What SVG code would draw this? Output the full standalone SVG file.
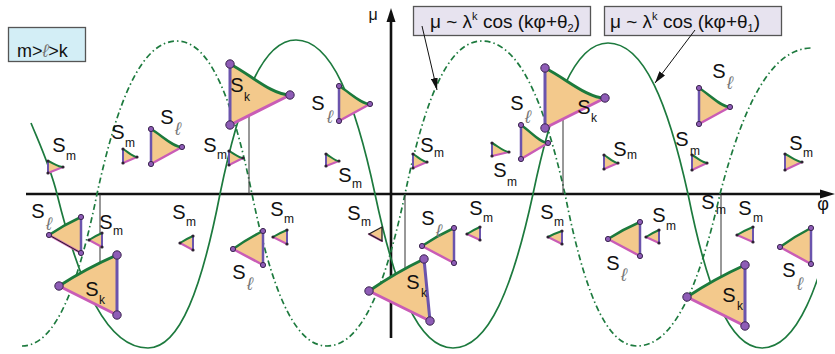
<svg xmlns="http://www.w3.org/2000/svg" width="835" height="354" viewBox="0 0 835 354">
<defs>
<style>
.f{fill:#f3c98c;stroke:none}
.g{fill:none;stroke:#1c7a3c;stroke-linecap:round}
.p{fill:none;stroke:#6b54ad;stroke-linecap:round}
.k{fill:none;stroke:#c95cb6;stroke-linecap:round}
.B{stroke-width:3}
.M{stroke-width:2.5}
.S{stroke-width:2}
.dL{fill:#8e5cb6;stroke:#3b2550;stroke-width:1}
.dS{fill:#2e2233}
text{font-family:"Liberation Sans","DejaVu Sans",Arial,sans-serif;fill:#111}
.s{font-size:20px;text-anchor:middle}
.sb{font-size:12px;text-anchor:middle}
.el{font-size:18px;font-style:italic;fill:#777;text-anchor:middle}
.curve{fill:none;stroke:#1d7a3e;stroke-width:1.7}
.dd{stroke-dasharray:6 3 1.5 3}
.guide{stroke:#333;stroke-width:1;fill:none}
.box{stroke:#555;stroke-width:1.3}
</style>
<clipPath id="clipR"><rect x="0" y="0" width="817" height="354"/></clipPath>
<marker id="ah" markerUnits="userSpaceOnUse" markerWidth="12" markerHeight="7" refX="12" refY="3.5" orient="auto">
<path d="M0,0 L12,3.5 L0,7 Z" fill="#111"/>
</marker>
</defs>
<rect width="835" height="354" fill="#fff"/>

<g id="axes">
<line x1="26" y1="194" x2="822" y2="194" stroke="#111" stroke-width="2.6"/>
<polygon points="835,194 820,189.5 820,198.5" fill="#111"/>
<line x1="391" y1="338" x2="391" y2="20" stroke="#111" stroke-width="2.6"/>
<polygon points="391,8 386.5,22 395.5,22" fill="#111"/>
<text x="373" y="20" font-size="16" text-anchor="middle">μ</text>
<text x="823" y="210" font-size="18" text-anchor="middle">φ</text>
</g>

<g id="curves">
<path class="curve" clip-path="url(#clipR)" d="M31,123 C40,145 50,166 57,194 C79.8,286.4 107.1,348 148,348 C180.4,348 202,286.4 220,194 C239,101.6 261.8,40 296,40 C331.6,40 355.3,101.6 375,194 C394.5,286.4 417.9,348 453,348 C489,348 513,286.4 533,194 C551.8,103.4 574.3,43 608,43 C644,43 668,103.4 688,194 C706.5,286.4 728.7,348 762,348 C797.1,348 820.5,286.4 840,194"/>
<path class="curve dd" d="M22,346 C55.75,346 78.25,285.2 97,194 C117,102.2 141,41 177,41 C210.75,41 233.25,102.2 252,194 C270.75,285.2 293.25,346 327,346 C362.1,346 385.5,285.2 405,194 C424.25,102.2 447.35,41 482,41 C519.35,41 544.25,102.2 565,194 C583,285.2 604.6,346 637,346 C674.35,346 699.25,285.2 720,194 C743,106.4 770.6,48 812,48"/>
</g>

<g id="guides">
<line class="guide" x1="249" y1="97" x2="249" y2="194"/>
<line class="guide" x1="563" y1="87" x2="563" y2="194"/>
<line class="guide" x1="100" y1="194" x2="100" y2="282" stroke="#777"/>
<line class="guide" x1="405" y1="194" x2="405" y2="285"/>
<line class="guide" x1="721" y1="194" x2="721" y2="298"/>
</g>

<g id="legend-key">
<rect class="box" x="8.5" y="27.5" width="77" height="34" fill="#d3eef6"/>
<text x="17" y="57" font-size="18">m&gt;<tspan fill="#777" font-style="italic">ℓ</tspan>&gt;k</text>
</g>
<g id="legend-theta2">
<rect class="box" x="413.5" y="6.5" width="177" height="29" fill="#e7e3ef"/>
<text x="430" y="28" font-size="19">μ ~ λ<tspan font-size="11" dy="-8">k</tspan><tspan dy="8"> cos (kφ+θ</tspan><tspan font-size="11" dy="4">2</tspan><tspan dy="-4">)</tspan></text>
</g>
<g id="legend-theta1">
<rect class="box" x="604.5" y="6.5" width="177" height="29" fill="#e7e3ef"/>
<text x="610" y="28" font-size="19">μ ~ λ<tspan font-size="11" dy="-8">k</tspan><tspan dy="8"> cos (kφ+θ</tspan><tspan font-size="11" dy="4">1</tspan><tspan dy="-4">)</tspan></text>
</g>
<g id="connectors">
<line x1="422" y1="26" x2="437" y2="90" stroke="#111" stroke-width="1" marker-end="url(#ah)"/>
<line x1="695" y1="30" x2="655" y2="83" stroke="#111" stroke-width="1" marker-end="url(#ah)"/>
</g>

<!-- upper triangles -->
<g id="t1">
<path class="f" d="M230,64 C251,74.9 272,95 290,95 L230,125 Z"/>
<path class="k B" d="M230,125 L290,95"/><path class="p B" d="M230,64 L230,125"/><path class="g B" d="M230,64 C251,74.9 272,95 290,95"/>
<circle class="dL" cx="230" cy="64" r="4.2"/><circle class="dL" cx="230" cy="125" r="4.2"/><circle class="dL" cx="290" cy="95" r="4.2"/>
<text class="s" x="237" y="92">S</text><text class="sb" x="247" y="101">k</text>
</g>
<g id="t2">
<path class="f" d="M151,129 C161.9,135.3 172.7,147 182,147 L151,164 Z"/>
<path class="k M" d="M151,164 L182,147"/><path class="p M" d="M151,129 L151,164"/><path class="g M" d="M151,129 C161.9,135.3 172.7,147 182,147"/>
<circle class="dL" cx="151" cy="129" r="2.6"/><circle class="dL" cx="151" cy="164" r="2.6"/><circle class="dL" cx="182" cy="147" r="2.6"/>
<text class="s" x="167" y="124">S</text><text class="el" x="178" y="135">ℓ</text>
</g>
<g id="t3">
<path class="f" d="M123,149 C127.9,151.8 132.8,157 137,157 L123,163 Z"/>
<path class="k S" d="M123,163 L137,157"/><path class="p S" d="M123,149 L123,163"/><path class="g S" d="M123,149 C127.9,151.8 132.8,157 137,157"/>
<circle class="dS" cx="123" cy="149" r="1.6"/><circle class="dS" cx="123" cy="163" r="1.6"/><circle class="dS" cx="137" cy="157" r="1.6"/>
<text class="s" x="118" y="139">S</text><text class="sb" x="130" y="147">m</text>
</g>
<g id="t4">
<path class="f" d="M48,161 C53.3,163.1 58.5,167 63,167 L48,173 Z"/>
<path class="k S" d="M48,173 L63,167"/><path class="p S" d="M48,161 L48,173"/><path class="g S" d="M48,161 C53.3,163.1 58.5,167 63,167"/>
<circle class="dS" cx="48" cy="161" r="1.6"/><circle class="dS" cx="48" cy="173" r="1.6"/><circle class="dS" cx="63" cy="167" r="1.6"/>
<text class="s" x="59" y="152">S</text><text class="sb" x="71" y="160">m</text>
</g>
<g id="t5">
<path class="f" d="M229,151 C233.9,153.5 238.8,158 243,158 L229,165 Z"/>
<path class="k S" d="M229,165 L243,158"/><path class="p S" d="M229,151 L229,165"/><path class="g S" d="M229,151 C233.9,153.5 238.8,158 243,158"/>
<circle class="dS" cx="229" cy="151" r="1.6"/><circle class="dS" cx="229" cy="165" r="1.6"/><circle class="dS" cx="243" cy="158" r="1.6"/>
<text class="s" x="210" y="152">S</text><text class="sb" x="222" y="159">m</text>
</g>
<g id="t6">
<path class="f" d="M339,86 C349.9,92.3 360.7,104 370,104 L339,121 Z"/>
<path class="k M" d="M339,121 L370,104"/><path class="p M" d="M339,86 L339,121"/><path class="g M" d="M339,86 C349.9,92.3 360.7,104 370,104"/>
<circle class="dL" cx="339" cy="86" r="2.6"/><circle class="dL" cx="339" cy="121" r="2.6"/><circle class="dL" cx="370" cy="104" r="2.6"/>
<text class="s" x="318" y="110">S</text><text class="el" x="330" y="123">ℓ</text>
</g>
<g id="t7">
<path class="f" d="M326,154 C330.6,156.5 335.1,161 339,161 L326,166 Z"/>
<path class="k S" d="M326,166 L339,161"/><path class="p S" d="M326,154 L326,166"/><path class="g S" d="M326,154 C330.6,156.5 335.1,161 339,161"/>
<circle class="dS" cx="326" cy="154" r="1.6"/><circle class="dS" cx="326" cy="166" r="1.6"/><circle class="dS" cx="339" cy="161" r="1.6"/>
<text class="s" x="345" y="182">S</text><text class="sb" x="357" y="188">m</text>
</g>
<g id="t8">
<path class="f" d="M413,154 C417.9,156.8 422.8,162 427,162 L413,168 Z"/>
<path class="k S" d="M413,168 L427,162"/><path class="p S" d="M413,154 L413,168"/><path class="g S" d="M413,154 C417.9,156.8 422.8,162 427,162"/>
<circle class="dS" cx="413" cy="154" r="1.6"/><circle class="dS" cx="413" cy="168" r="1.6"/><circle class="dS" cx="427" cy="162" r="1.6"/>
<text class="s" x="427" y="152">S</text><text class="sb" x="439" y="157">m</text>
</g>
<g id="t9">
<path class="f" d="M492,143 C498,146.2 503.9,152 509,152 L492,156 Z"/>
<path class="k S" d="M492,156 L509,152"/><path class="p S" d="M492,143 L492,156"/><path class="g S" d="M492,143 C498,146.2 503.9,152 509,152"/>
<circle class="dS" cx="492" cy="143" r="1.6"/><circle class="dS" cx="492" cy="156" r="1.6"/><circle class="dS" cx="509" cy="152" r="1.6"/>
<text class="s" x="500" y="177">S</text><text class="sb" x="512" y="186">m</text>
</g>
<g id="t10">
<path class="f" d="M521,125 C530.5,131.3 539.9,143 548,143 L521,159 Z"/>
<path class="k M" d="M521,159 L548,143"/><path class="p M" d="M521,125 L521,159"/><path class="g M" d="M521,125 C530.5,131.3 539.9,143 548,143"/>
<circle class="dL" cx="521" cy="125" r="2.6"/><circle class="dL" cx="521" cy="159" r="2.6"/><circle class="dL" cx="548" cy="143" r="2.6"/>
<text class="s" x="517" y="110">S</text><text class="el" x="528" y="123">ℓ</text>
</g>
<g id="t11">
<path class="f" d="M545,68 C566,78.5 587,98 605,98 L545,128 Z"/>
<path class="k B" d="M545,128 L605,98"/><path class="p B" d="M545,68 L545,128"/><path class="g B" d="M545,68 C566,78.5 587,98 605,98"/>
<circle class="dL" cx="545" cy="68" r="4.2"/><circle class="dL" cx="545" cy="128" r="4.2"/><circle class="dL" cx="605" cy="98" r="4.2"/>
<text class="s" x="584" y="114">S</text><text class="sb" x="594" y="122">k</text>
</g>
<g id="t12">
<path class="f" d="M604,155 C608.9,157.8 613.8,163 618,163 L604,169 Z"/>
<path class="k S" d="M604,169 L618,163"/><path class="p S" d="M604,155 L604,169"/><path class="g S" d="M604,155 C608.9,157.8 613.8,163 618,163"/>
<circle class="dS" cx="604" cy="155" r="1.6"/><circle class="dS" cx="604" cy="169" r="1.6"/><circle class="dS" cx="618" cy="163" r="1.6"/>
<text class="s" x="620" y="156">S</text><text class="sb" x="632" y="159">m</text>
</g>
<g id="t13">
<path class="f" d="M699,88 C709.9,94.7 720.7,107 730,107 L699,124 Z"/>
<path class="k M" d="M699,124 L730,107"/><path class="p M" d="M699,88 L699,124"/><path class="g M" d="M699,88 C709.9,94.7 720.7,107 730,107"/>
<circle class="dL" cx="699" cy="88" r="2.6"/><circle class="dL" cx="699" cy="124" r="2.6"/><circle class="dL" cx="730" cy="107" r="2.6"/>
<text class="s" x="719" y="78">S</text><text class="el" x="730" y="89">ℓ</text>
</g>
<g id="t14">
<path class="f" d="M692,155 C697.3,157.8 702.5,163 707,163 L692,170 Z"/>
<path class="k S" d="M692,170 L707,163"/><path class="p S" d="M692,155 L692,170"/><path class="g S" d="M692,155 C697.3,157.8 702.5,163 707,163"/>
<circle class="dS" cx="692" cy="155" r="1.6"/><circle class="dS" cx="692" cy="170" r="1.6"/><circle class="dS" cx="707" cy="163" r="1.6"/>
<text class="s" x="682" y="146">S</text><text class="sb" x="695" y="155">m</text>
</g>
<g id="t15">
<path class="f" d="M785,154 C791,156.8 796.9,162 802,162 L785,170 Z"/>
<path class="k S" d="M785,170 L802,162"/><path class="p S" d="M785,154 L785,170"/><path class="g S" d="M785,154 C791,156.8 796.9,162 802,162"/>
<circle class="dS" cx="785" cy="154" r="1.6"/><circle class="dS" cx="785" cy="170" r="1.6"/><circle class="dS" cx="802" cy="162" r="1.6"/>
<text class="s" x="796" y="150">S</text><text class="sb" x="808" y="157">m</text>
</g>

<!-- lower triangles -->
<g id="t16">
<path class="f" d="M49,235 Q64.3,224.7 81,217 L81,253 Z"/>
<path class="k M" d="M49,235 L81,253"/><path d="M49,235 L81,253" stroke="#222" stroke-width="1" fill="none"/><path class="p M" d="M81,217 L81,253"/><path class="g M" d="M49,235 Q64.3,224.7 81,217"/>
<circle class="dL" cx="49" cy="235" r="2.6"/><circle class="dL" cx="81" cy="217" r="2.6"/><circle class="dL" cx="81" cy="253" r="2.6"/>
<text class="s" x="38" y="218">S</text><text class="el" x="49" y="230">ℓ</text>
</g>
<g id="t17">
<path class="f" d="M89,240 Q95.2,236 102,233 L102,247 Z"/>
<path class="k S" d="M89,240 L102,247"/><path class="p S" d="M102,233 L102,247"/><path class="g S" d="M89,240 Q95.2,236 102,233"/>
<circle class="dS" cx="89" cy="240" r="1.6"/><circle class="dS" cx="102" cy="233" r="1.6"/><circle class="dS" cx="102" cy="247" r="1.6"/>
<text class="s" x="106" y="229">S</text><text class="sb" x="118" y="235">m</text>
</g>
<g id="t18">
<path class="f" d="M59,286 Q86.8,268.2 117,255 L117,315 Z"/>
<path class="k B" d="M59,286 L117,315"/><path class="p B" d="M117,255 L117,315"/><path class="g B" d="M59,286 Q86.8,268.2 117,255"/>
<circle class="dL" cx="59" cy="286" r="4.2"/><circle class="dL" cx="117" cy="255" r="4.2"/><circle class="dL" cx="117" cy="315" r="4.2"/>
<text class="s" x="92" y="296">S</text><text class="sb" x="102" y="304">k</text>
</g>
<g id="t19">
<path class="f" d="M180,243 Q186.2,239 193,236 L193,250 Z"/>
<path class="k S" d="M180,243 L193,250"/><path class="p S" d="M193,236 L193,250"/><path class="g S" d="M180,243 Q186.2,239 193,236"/>
<circle class="dS" cx="180" cy="243" r="1.6"/><circle class="dS" cx="193" cy="236" r="1.6"/><circle class="dS" cx="193" cy="250" r="1.6"/>
<text class="s" x="179" y="219">S</text><text class="sb" x="191" y="226">m</text>
</g>
<g id="t20">
<path class="f" d="M233,249 Q247.3,238.8 263,231 L263,265 Z"/>
<path class="k M" d="M233,249 L263,265"/><path class="p M" d="M263,231 L263,265"/><path class="g M" d="M233,249 Q247.3,238.8 263,231"/>
<circle class="dL" cx="233" cy="249" r="2.6"/><circle class="dL" cx="263" cy="231" r="2.6"/><circle class="dL" cx="263" cy="265" r="2.6"/>
<text class="s" x="239" y="279">S</text><text class="el" x="250" y="290">ℓ</text>
</g>
<g id="t21">
<path class="f" d="M273,237 Q279.7,233 287,230 L287,244 Z"/>
<path class="k S" d="M273,237 L287,244"/><path class="p S" d="M287,230 L287,244"/><path class="g S" d="M273,237 Q279.7,233 287,230"/>
<circle class="dS" cx="273" cy="237" r="1.6"/><circle class="dS" cx="287" cy="230" r="1.6"/><circle class="dS" cx="287" cy="244" r="1.6"/>
<text class="s" x="277" y="216">S</text><text class="sb" x="289" y="223">m</text>
</g>
<g id="t22">
<path class="f" d="M369,234 L382,227 L382,241 Z"/>
<path class="k S" d="M369,234 L382,241"/>
<path d="M369,234 L382,227 L382,241 Z" fill="none" stroke="#222" stroke-width="1.3"/>
<text class="s" x="354" y="220">S</text><text class="sb" x="366" y="226">m</text>
</g>
<g id="t23">
<path class="f" d="M422,246 Q437.3,235.7 454,228 L454,263 Z"/>
<path class="k M" d="M422,246 L454,263"/><path class="p M" d="M454,228 L454,263"/><path class="g M" d="M422,246 Q437.3,235.7 454,228"/>
<circle class="dL" cx="422" cy="246" r="2.6"/><circle class="dL" cx="454" cy="228" r="2.6"/><circle class="dL" cx="454" cy="263" r="2.6"/>
<text class="s" x="428" y="225">S</text><text class="el" x="439" y="237">ℓ</text>
</g>
<g id="t24">
<path class="f" d="M467,234 Q473.2,230 480,227 L480,240 Z"/>
<path class="k S" d="M467,234 L480,240"/><path class="p S" d="M480,227 L480,240"/><path class="g S" d="M467,234 Q473.2,230 480,227"/>
<circle class="dS" cx="467" cy="234" r="1.6"/><circle class="dS" cx="480" cy="227" r="1.6"/><circle class="dS" cx="480" cy="240" r="1.6"/>
<text class="s" x="476" y="215">S</text><text class="sb" x="488" y="222">m</text>
</g>
<g id="t25">
<path class="f" d="M369,291 Q395.2,272.8 424,259 L430,321 Z"/>
<path class="k B" d="M369,291 L430,321"/><path class="p B" d="M424,259 L430,321"/><path class="g B" d="M369,291 Q395.2,272.8 424,259"/>
<circle class="dL" cx="369" cy="291" r="4.2"/><circle class="dL" cx="424" cy="259" r="4.2"/><circle class="dL" cx="430" cy="321" r="4.2"/>
<text class="s" x="413" y="289">S</text><text class="sb" x="424" y="297">k</text>
</g>
<g id="t26">
<path class="f" d="M548,237 Q554.8,233.4 562,231 L562,244 Z"/>
<path class="k S" d="M548,237 L562,244"/><path class="p S" d="M562,231 L562,244"/><path class="g S" d="M548,237 Q554.8,233.4 562,231"/>
<circle class="dS" cx="548" cy="237" r="1.6"/><circle class="dS" cx="562" cy="231" r="1.6"/><circle class="dS" cx="562" cy="244" r="1.6"/>
<text class="s" x="547" y="219">S</text><text class="sb" x="559" y="226">m</text>
</g>
<g id="t27">
<path class="f" d="M608,239 Q623.3,229.2 640,222 L640,256 Z"/>
<path class="k M" d="M608,239 L640,256"/><path class="p M" d="M640,222 L640,256"/><path class="g M" d="M608,239 Q623.3,229.2 640,222"/>
<circle class="dL" cx="608" cy="239" r="2.6"/><circle class="dL" cx="640" cy="222" r="2.6"/><circle class="dL" cx="640" cy="256" r="2.6"/>
<text class="s" x="613" y="270">S</text><text class="el" x="624" y="281">ℓ</text>
</g>
<g id="t28">
<path class="f" d="M646,237 Q652.2,233 659,230 L659,243 Z"/>
<path class="k S" d="M646,237 L659,243"/><path class="p S" d="M659,230 L659,243"/><path class="g S" d="M646,237 Q652.2,233 659,230"/>
<circle class="dS" cx="646" cy="237" r="1.6"/><circle class="dS" cx="659" cy="230" r="1.6"/><circle class="dS" cx="659" cy="243" r="1.6"/>
<text class="s" x="659" y="222">S</text><text class="sb" x="671" y="230">m</text>
</g>
<g id="t29">
<path class="f" d="M687,297 Q714.7,278.7 745,265 L745,326 Z"/>
<path class="k B" d="M687,297 L745,326"/><path class="p B" d="M745,265 L745,326"/><path class="g B" d="M687,297 Q714.7,278.7 745,265"/>
<circle class="dL" cx="687" cy="297" r="4.2"/><circle class="dL" cx="745" cy="265" r="4.2"/><circle class="dL" cx="745" cy="326" r="4.2"/>
<text class="s" x="729" y="302">S</text><text class="sb" x="740" y="310">k</text>
</g>
<g id="t30">
<path class="f" d="M737,235 Q744.7,230.4 753,227 L753,242 Z"/>
<path class="k S" d="M737,235 L753,242"/><path class="p S" d="M753,227 L753,242"/><path class="g S" d="M737,235 Q744.7,230.4 753,227"/>
<circle class="dS" cx="737" cy="235" r="1.6"/><circle class="dS" cx="753" cy="227" r="1.6"/><circle class="dS" cx="753" cy="242" r="1.6"/>
<text class="s" x="745" y="215">S</text><text class="sb" x="758" y="222">m</text>
</g>
<g id="t31">
<path class="f" d="M780,247 Q794.7,236.3 811,228 L811,264 Z"/>
<path class="k M" d="M780,247 L811,264"/><path class="p M" d="M811,228 L811,264"/><path class="g M" d="M780,247 Q794.7,236.3 811,228"/>
<circle class="dL" cx="780" cy="247" r="2.6"/><circle class="dL" cx="811" cy="228" r="2.6"/><circle class="dL" cx="811" cy="264" r="2.6"/>
<text class="s" x="789" y="277">S</text><text class="el" x="800" y="290">ℓ</text>
</g>
<g id="label-sm-axis">
<text class="s" x="708" y="209">S</text><text class="sb" x="721" y="214">m</text>
</g>
</svg>
